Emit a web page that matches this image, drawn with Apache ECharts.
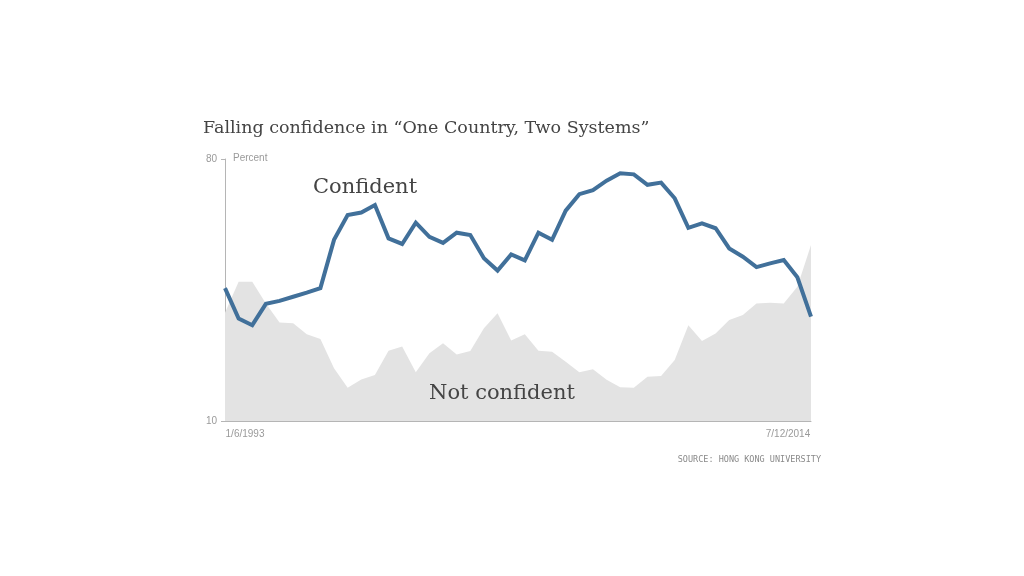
<!DOCTYPE html>
<html>
<head>
<meta charset="utf-8">
<script src="https://cdn.jsdelivr.net/npm/echarts@6/dist/echarts.min.js"></script>
<style>
html,body{margin:0;padding:0;background:#fff;}
#chart{width:1024px;height:576px;}
</style>
</head>
<body>
<div id="chart"></div>
<script>
// Semi-annual survey points, 1993 H1 .. 2014 H2
var categories = [
  "1993 H1","1993 H2","1994 H1","1994 H2","1995 H1","1995 H2","1996 H1","1996 H2",
  "1997 H1","1997 H2","1998 H1","1998 H2","1999 H1","1999 H2","2000 H1","2000 H2",
  "2001 H1","2001 H2","2002 H1","2002 H2","2003 H1","2003 H2","2004 H1","2004 H2",
  "2005 H1","2005 H2","2006 H1","2006 H2","2007 H1","2007 H2","2008 H1","2008 H2",
  "2009 H1","2009 H2","2010 H1","2010 H2","2011 H1","2011 H2","2012 H1","2012 H2",
  "2013 H1","2013 H2","2014 H1","2014 H2"
];
var confident = [
  45.5,37.4,35.6,41.3,42.1,43.2,44.3,45.5,58.4,65.0,65.7,67.7,58.8,57.3,63.0,59.2,
  57.6,60.3,59.7,53.5,50.2,54.5,52.9,60.3,58.4,66.2,70.6,71.7,74.2,76.2,75.9,73.1,
  73.7,69.5,61.6,62.8,61.5,56.1,53.9,51.1,52.1,53.0,48.4,37.9
];
var notConfident = [
  38.9,47.2,47.2,41.4,36.3,36.1,33.2,31.9,24.1,18.9,21.1,22.3,28.8,29.9,23.0,28.1,
  30.8,27.8,28.7,34.8,38.8,31.5,33.2,28.8,28.5,25.8,23.0,23.8,21.0,19.0,18.9,21.8,
  22.0,26.3,35.6,31.4,33.4,37.0,38.3,41.4,41.6,41.4,45.9,57.0
];
var xTickLabels = ["1/6/1993", "7/12/2014"];
var yTicks = [10, 80];

var serif = "'DejaVu Serif', 'Liberation Serif', serif";
var narrow = "'Liberation Sans Narrow', 'Liberation Sans', Arial, sans-serif";

var chart = echarts.init(document.getElementById('chart'), null, {renderer: 'canvas'});
chart.setOption({
  animation: false,
  backgroundColor: '#ffffff',
  title: {
    text: 'Falling confidence in \u201cOne Country, Two Systems\u201d',
    left: 203, top: 119, padding: 0,
    textStyle: {fontFamily: serif, fontSize: 17.5, fontWeight: 'normal', color: '#444444'}
  },
  grid: {left: 225, right: 213, top: 159, bottom: 155, containLabel: false},
  xAxis: {
    type: 'category',
    data: categories,
    boundaryGap: false,
    axisLine: {show: true, lineStyle: {color: '#b5b5b5', width: 1}},
    axisTick: {show: false},
    splitLine: {show: false},
    axisLabel: {
      interval: 0,
      margin: 8,
      color: '#9a9a9a',
      fontFamily: narrow,
      fontSize: 10,
      formatter: function (v, i) {
        if (i === 0) return '{l|' + xTickLabels[0] + '}';
        if (i === categories.length - 1) return '{r|' + xTickLabels[1] + '}';
        return '';
      },
      rich: {
        l: {align: 'left', padding: [0, 0, 0, 40], color: '#9a9a9a', fontFamily: narrow, fontSize: 10},
        r: {align: 'right', padding: [0, 46, 0, 0], color: '#9a9a9a', fontFamily: narrow, fontSize: 10}
      }
    }
  },
  yAxis: {
    type: 'value',
    min: yTicks[0], max: yTicks[1], interval: yTicks[1] - yTicks[0],
    axisLine: {show: true, lineStyle: {color: '#b5b5b5', width: 1}},
    axisTick: {show: true, length: 4, lineStyle: {color: '#b5b5b5'}},
    splitLine: {show: false},
    axisLabel: {color: '#9a9a9a', fontFamily: narrow, fontSize: 10, margin: 8}
  },
  series: [
    {
      name: 'Not confident',
      type: 'line',
      data: notConfident,
      showSymbol: false,
      symbol: 'none',
      lineStyle: {width: 0},
      areaStyle: {color: '#e3e3e3', opacity: 1},
      itemStyle: {color: '#e3e3e3'},
      z: 1
    },
    {
      name: 'Confident',
      type: 'line',
      data: confident,
      showSymbol: false,
      symbol: 'none',
      lineStyle: {width: 4, color: '#41709a', join: 'miter'},
      itemStyle: {color: '#41709a'},
      z: 3
    }
  ],
  graphic: [
    {type: 'text', left: 233, top: 153, z: 10,
     style: {text: 'Percent', fill: '#9a9a9a', font: '10px ' + narrow}},
    {type: 'text', left: 313, top: 177, z: 10,
     style: {text: 'Confident', fill: '#444444', font: '21px ' + serif}},
    {type: 'text', left: 429, top: 383, z: 10,
     style: {text: 'Not confident', fill: '#444444', font: '21px ' + serif}},
    {type: 'text', right: 203, top: 455, z: 10,
     style: {text: 'SOURCE: HONG KONG UNIVERSITY', fill: '#8a8a8a', font: '8.5px "DejaVu Sans Mono", monospace'}}
  ]
});
</script>
</body>
</html>
